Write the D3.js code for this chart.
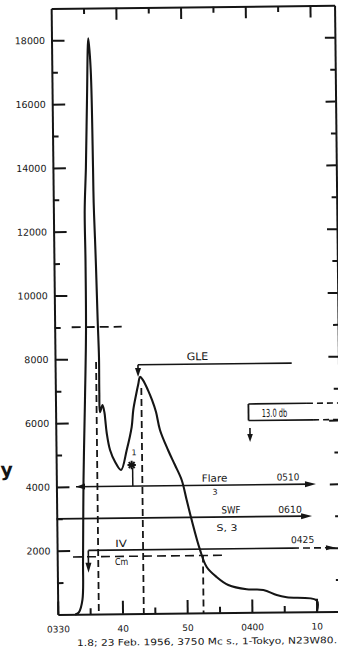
<!DOCTYPE html>
<html>
<head>
<meta charset="utf-8">
<script src="https://cdn.jsdelivr.net/npm/d3@7"></script>
<style>
  html, body { margin: 0; padding: 0; background: #fff; }
  svg { display: block; }
</style>
</head>
<body>
<svg id="chart" width="338" height="651"></svg>
<script>
// 3750 Mc/s flux record, 23 Feb 1956. Time in minutes after 03:30 UT.
const curveMinutes = [2.8, 3.28, 3.83, 3.99, 4.2, 4.56, 4.84, 4.88, 4.84, 5.1, 5.38, 5.69,
  6.01, 6.2, 6.24, 6.38, 6.49, 6.66, 6.8, 6.79, 6.86, 7.26, 7.56, 7.67, 7.87, 8.35,
  9.1, 10.02, 10.93, 11.73, 12.01, 12.46, 12.83, 13.11, 13.56, 14.31, 14.92, 15.52, 16.1,
  17.31, 18.36, 19.37, 20.11, 20.85, 22.09, 23.09, 24.62, 26.4, 29.23, 31.8, 33.86, 35.41,
  40.04, 40.04];
const curveFlux = [0, 70, 450, 1700, 4200, 6700, 8900, 11100, 12650, 14000, 16100, 18050,
  17050, 14000, 12900, 11800, 10900, 9200, 8050, 6930, 6330, 6550, 6300, 6080, 5665, 5140,
  4770, 4510, 5135, 5850, 6385, 6855, 7200, 7420, 7320, 7005, 6695, 6315, 5750,
  5120, 4645, 4175, 3545, 2915, 1975, 1440, 1120, 865, 725, 700, 535, 460,
  350, 0];

// Axis ticks
const fluxMajor = [2000, 4000, 6000, 8000, 10000, 12000, 14000, 16000, 18000];
const fluxMinor = [1000, 3000, 5000, 7000, 9000, 11000, 13000, 15000, 17000];
const timeMajor = [0, 10, 20, 30, 40];
const timeLabels = ["0330", "40", "50", "0400", "10"];
const timeMinor = [5, 15, 25, 35];

// Event bars: flux level, start / end minute
const flareBar = { level: 4000, start: 3.03, end: 40.12, name: "Flare", importance: "3", endTime: "0510" };
const swfBar = { level: 3000, start: 0, end: 39.46, name: "SWF", importance: "S, 3", endTime: "0610" };
const ivBar = { level: 2000, start: 4.82, solidEnd: 36.3, end: 43.1, name: "IV", endTime: "0425", drop: 1300 };
const gleBar = { level: 7800, start: 12.81, end: 36.57, name: "GLE", peak: 7420 };
const cmLine = { level: 1800, start: 2.44, end: 25.94, name: "Cm" };
const levelLine = { level: 9000, start: 2.63, end: 10.36 };
const markerLines = [
  { minute: 6.34, top: 7900 },
  { minute: 13.29, top: 7075 },
  { minute: 22.53, top: 1800 }
];
const dbBox = { start: 29.81, top: 6535, bottom: 6015, topSolidEnd: 38.86, bottomSolidEnd: 39.78, label: "13.0 db" };
const dbArrow = { minute: 30.01, from: 5780, to: 5340 };
const starMark = { minute: 11.67, flux: 4660, stemMinute: 11.81 };
const caption = "1.8;  23 Feb. 1956, 3750 Mc s., 1-Tokyo, N23W80.";

const ink = "#151515";
const font = "'DejaVu Sans', sans-serif";

const svg = d3.select("#chart");
svg.append("rect").attr("width", 338).attr("height", 651).attr("fill", "#fff");
const g = svg.append("g").attr("transform", "rotate(-0.63,195,312)");

const x = d3.scaleLinear().domain([0, 43.8]).range([54.5, 337.9]);
const y = d3.scaleLinear().domain([0, 19000]).range([613, 6.9]);

function styleAxis(sel, keepDomain) {
  if (!keepDomain) sel.select("path.domain").remove();
  sel.select("path.domain").attr("stroke", ink).attr("stroke-width", 2);
  sel.selectAll(".tick line").attr("stroke", ink).attr("stroke-width", 2);
  sel.selectAll(".tick text").attr("fill", ink).attr("font-family", font);
}

// Left axis
g.append("g").attr("transform", `translate(${x(0)},0)`)
  .call(d3.axisLeft(y).tickValues(fluxMajor).tickSizeInner(-13).tickSizeOuter(0).tickPadding(6.5).tickFormat(d => String(d)))
  .call(s => styleAxis(s, true))
  .call(s => s.selectAll(".tick text").attr("font-size", 9.5));
g.append("g").attr("transform", `translate(${x(0)},0)`)
  .call(d3.axisLeft(y).tickValues(fluxMinor).tickSize(-6).tickFormat(""))
  .call(s => styleAxis(s, false));

// Right axis
g.append("g").attr("transform", `translate(${x(43.8)},0)`)
  .call(d3.axisRight(y).tickValues(fluxMajor).tickSizeInner(-10).tickSizeOuter(0).tickFormat(""))
  .call(s => styleAxis(s, true));
g.append("g").attr("transform", `translate(${x(43.8)},0)`)
  .call(d3.axisRight(y).tickValues(fluxMinor).tickSize(-5).tickFormat(""))
  .call(s => styleAxis(s, false));

// Bottom axis
g.append("g").attr("transform", `translate(0,${y(0)})`)
  .call(d3.axisBottom(x).tickValues(timeMajor).tickSizeInner(-13).tickSizeOuter(0).tickPadding(11.5)
    .tickFormat(d => timeLabels[timeMajor.indexOf(d)]))
  .call(s => styleAxis(s, true))
  .call(s => s.selectAll(".tick text").attr("font-size", 9));
g.append("g").attr("transform", `translate(0,${y(0)})`)
  .call(d3.axisBottom(x).tickValues(timeMinor).tickSize(-6).tickFormat(""))
  .call(s => styleAxis(s, false));

// Top axis
g.append("g").attr("transform", `translate(0,${y(19000)})`)
  .call(d3.axisTop(x).tickValues(timeMajor.slice(1)).tickSizeInner(-12).tickSizeOuter(0).tickFormat(""))
  .call(s => styleAxis(s, true));
g.append("g").attr("transform", `translate(0,${y(19000)})`)
  .call(d3.axisTop(x).tickValues(timeMinor).tickSize(-6).tickFormat(""))
  .call(s => styleAxis(s, false));

// Drawing helpers
function seg(x1, y1, x2, y2, width, dash) {
  const l = g.append("line").attr("x1", x1).attr("y1", y1).attr("x2", x2).attr("y2", y2)
    .attr("stroke", ink).attr("stroke-width", width);
  if (dash) l.attr("stroke-dasharray", dash);
  return l;
}
function arrowHead(tx, ty, dir, len, hw) {
  let pts;
  if (dir === "right") pts = [[tx, ty], [tx - len, ty - hw], [tx - len, ty + hw]];
  else if (dir === "left") pts = [[tx, ty], [tx + len, ty - hw], [tx + len, ty + hw]];
  else pts = [[tx, ty], [tx - hw, ty - len], [tx + hw, ty - len]];
  g.append("path").attr("d", "M" + pts.map(p => p.join(",")).join("L") + "Z").attr("fill", ink);
}
function label(text, minute, level, dy, size, width, weight) {
  const t = g.append("text").attr("x", x(minute)).attr("y", y(level) + dy)
    .attr("text-anchor", "middle").attr("font-family", font).attr("font-size", size)
    .attr("fill", ink).text(text);
  if (width) t.attr("textLength", width).attr("lengthAdjust", "spacingAndGlyphs");
  if (weight) t.attr("font-weight", weight);
  return t;
}

// Dashed reference lines
seg(x(levelLine.start), y(levelLine.level), x(levelLine.end), y(levelLine.level), 1.8, "9,5");
markerLines.forEach(d => seg(x(d.minute), y(d.top), x(d.minute), y(0), 1.8, "7,4"));
seg(x(cmLine.start), y(cmLine.level), x(cmLine.end), y(cmLine.level), 1.6, "9,5");
label(cmLine.name, 9.95, cmLine.level, 8.5, 9.5, 13.3);

// Flare bar
seg(x(flareBar.start), y(flareBar.level), x(flareBar.end) - 6, y(flareBar.level), 1.6);
arrowHead(x(flareBar.end), y(flareBar.level), "right", 11, 3);
arrowHead(x(flareBar.start), y(flareBar.level), "left", 9, 3);
label(flareBar.name, 24.44, flareBar.level, -3.5, 10, 25.6);
label(flareBar.importance, 24.5, flareBar.level, 9.5, 8);
label(flareBar.endTime, 35.8, flareBar.level, -4, 9.5, 22.6);

// SWF bar
seg(x(swfBar.start), y(swfBar.level), x(swfBar.end) - 6, y(swfBar.level), 1.6);
arrowHead(x(swfBar.end), y(swfBar.level), "right", 11, 3);
label(swfBar.name, 26.94, swfBar.level, -3.5, 10, 19);
label(swfBar.importance, 26.29, swfBar.level, 14, 9, 21);
label(swfBar.endTime, 36.06, swfBar.level, -3.5, 9.5, 23.7);

// Type IV bar
seg(x(ivBar.start), y(ivBar.level), x(ivBar.solidEnd), y(ivBar.level), 1.6);
seg(x(ivBar.solidEnd), y(ivBar.level), x(ivBar.end) - 8, y(ivBar.level), 1.6, "7,4");
arrowHead(x(ivBar.end), y(ivBar.level), "right", 10, 2.6);
seg(x(ivBar.start), y(ivBar.level), x(ivBar.start), y(ivBar.drop) - 6, 1.6);
arrowHead(x(ivBar.start), y(ivBar.drop), "down", 10, 3);
label(ivBar.name, 9.89, ivBar.level, -3, 10, 11.7);
label(ivBar.endTime, 37.95, ivBar.level, -5, 9.5, 23.3);

// GLE bar
seg(x(gleBar.start), y(gleBar.level), x(gleBar.end), y(gleBar.level), 1.6);
seg(x(gleBar.start), y(gleBar.level), x(gleBar.start), y(gleBar.peak) - 5, 1.6);
arrowHead(x(gleBar.start), y(gleBar.peak), "down", 9, 3);
label(gleBar.name, 22.02, gleBar.level, -4, 10.5, 21.6);

// 13.0 db box
seg(x(dbBox.start), y(dbBox.top), x(dbBox.start), y(dbBox.bottom), 1.8);
seg(x(dbBox.start), y(dbBox.top), x(dbBox.topSolidEnd), y(dbBox.top), 1.6);
seg(x(dbBox.topSolidEnd), y(dbBox.top), x(46), y(dbBox.top), 1.6, "6,4");
seg(x(dbBox.start), y(dbBox.bottom), x(dbBox.bottomSolidEnd), y(dbBox.bottom), 1.6);
seg(x(dbBox.bottomSolidEnd), y(dbBox.bottom), x(46), y(dbBox.bottom), 1.6, "6,4");
label(dbBox.label, 33.83, dbBox.bottom, -3.4, 11, 25.6);
seg(x(dbArrow.minute), y(dbArrow.from), x(dbArrow.minute), y(dbArrow.to) - 5, 1.6);
arrowHead(x(dbArrow.minute), y(dbArrow.to), "down", 8, 2.8);

// Asterisk marker with stem to the flare bar
{
  const cx = x(starMark.minute), cy = y(starMark.flux), r = 4.2;
  [0, 45, 90, 135].forEach(a => {
    const dx = r * Math.cos(a * Math.PI / 180), dy = r * Math.sin(a * Math.PI / 180);
    seg(cx - dx, cy - dy, cx + dx, cy + dy, 2);
  });
  seg(x(starMark.stemMinute), cy + 3, x(starMark.stemMinute), y(flareBar.level), 1.5);
  label("1", 12.06, 4970, 0, 8);
}

// Flux curve
const line = d3.line()
  .x(d => x(d[0])).y(d => y(d[1]))
  .curve(d3.curveCatmullRom.alpha(0.5));
g.append("path")
  .datum(d3.zip(curveMinutes, curveFlux))
  .attr("d", line)
  .attr("fill", "none").attr("stroke", ink).attr("stroke-width", 2.1)
  .attr("stroke-linejoin", "round").attr("stroke-linecap", "round");

// Side lettering and caption
g.append("text").attr("x", -1.3).attr("y", 474).attr("font-family", font)
  .attr("font-size", 19).attr("font-weight", "bold").attr("fill", ink).text("y");
g.append("text").attr("x", 73.4).attr("y", 644.7).attr("font-family", font)
  .attr("font-size", 9).attr("fill", ink)
  .attr("textLength", 260).attr("lengthAdjust", "spacingAndGlyphs").text(caption);
</script>
</body>
</html>
